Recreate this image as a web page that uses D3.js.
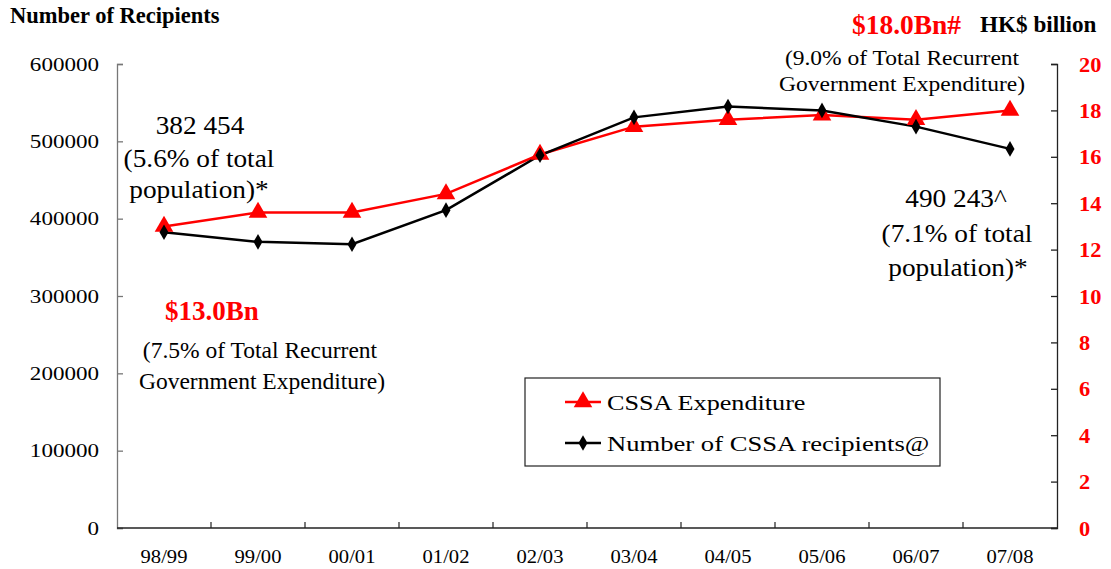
<!DOCTYPE html>
<html>
<head>
<meta charset="utf-8">
<script src="https://cdn.jsdelivr.net/npm/d3@7"></script>
<style>
  body { margin: 0; background: #fff; }
  svg { font-family: "Liberation Serif", "Times New Roman", serif; }
</style>
</head>
<body>
<svg id="chart" width="1111" height="569"></svg>
<script>
const years = ["98/99", "99/00", "00/01", "01/02", "02/03", "03/04", "04/05", "05/06", "06/07", "07/08"]
const expenditure = [13.0, 13.6, 13.6, 14.4, 16.1, 17.3, 17.6, 17.8, 17.6, 18.0]
const recipients = [382454, 370000, 367000, 411000, 482000, 531000, 545000, 540000, 519000, 490243]
const leftTicks = [0, 100000, 200000, 300000, 400000, 500000, 600000]
const rightTicks = [0, 2, 4, 6, 8, 10, 12, 14, 16, 18, 20]

const svg = d3.select("#chart")
const X0 = 117, X1 = 1057, Y0 = 528, Y1 = 64

const x = d3.scaleBand().domain(years).range([X0, X1])
const yL = d3.scaleLinear().domain([0, 600000]).range([Y0, Y1])
const yR = d3.scaleLinear().domain([0, 20]).range([Y0, Y1])
const cx = d => x(d) + x.bandwidth() / 2

// text helper, sx stretches the glyphs horizontally
function label(str, xPos, yPos, size, sx, anchor = "start") {
  return svg.append("text")
    .attr("transform", `translate(${xPos},${yPos}) scale(${sx},1)`)
    .attr("text-anchor", anchor).attr("font-size", size).text(str)
}

// left axis
const gl = svg.append("g").attr("transform", `translate(${X0},0)`)
  .call(d3.axisRight(yL).tickValues(leftTicks).tickSize(6).tickFormat(""))
gl.selectAll("line, path").attr("stroke", "#777").attr("stroke-width", 1.3)
svg.append("g").selectAll("text").data(leftTicks).join("text")
  .attr("transform", d => `translate(99,${yL(d) + 6.5}) scale(1.24,1)`)
  .attr("text-anchor", "end").attr("font-size", 18.6).text(d => d)

// right axis
const gr = svg.append("g").attr("transform", `translate(${X1},0)`)
  .call(d3.axisLeft(yR).tickValues(rightTicks).tickSize(6).tickFormat(""))
gr.selectAll("line, path").attr("stroke", "#222").attr("stroke-width", 1.3)
svg.append("g").selectAll("text").data(rightTicks).join("text")
  .attr("transform", d => `translate(1079,${yR(d) + 7.5}) scale(1.12,1)`)
  .attr("font-size", 20).attr("font-weight", "bold").attr("fill", "#ff0000").text(d => d)

// bottom axis
svg.append("line").attr("x1", X0).attr("x2", X1).attr("y1", Y0).attr("y2", Y0)
  .attr("stroke", "#222").attr("stroke-width", 1.3)
svg.append("g").selectAll("line").data(years.slice(1)).join("line")
  .attr("x1", d => x(d)).attr("x2", d => x(d)).attr("y1", Y0).attr("y2", Y0 - 6)
  .attr("stroke", "#222").attr("stroke-width", 1.2)
svg.append("g").selectAll("text").data(years).join("text")
  .attr("transform", d => `translate(${cx(d)},563) scale(1.11,1)`)
  .attr("text-anchor", "middle").attr("font-size", 18.6).text(d => d)

// lines
const redLine = d3.line().x((d, i) => cx(years[i])).y(d => yR(d))
const blackLine = d3.line().x((d, i) => cx(years[i])).y(d => yL(d))

svg.append("path").datum(expenditure).attr("d", redLine)
  .attr("fill", "none").attr("stroke", "#ff0000").attr("stroke-width", 2.5)
svg.append("path").datum(recipients).attr("d", blackLine)
  .attr("fill", "none").attr("stroke", "#000").attr("stroke-width", 2.5)

const tri = d3.symbol().type(d3.symbolTriangle).size(150)
const dia = d3.symbol().type(d3.symbolDiamond).size(70)

svg.append("g").selectAll("path").data(expenditure).join("path")
  .attr("d", tri).attr("fill", "#ff0000")
  .attr("transform", (d, i) => `translate(${cx(years[i])},${yR(d)})`)
svg.append("g").selectAll("path").data(recipients).join("path")
  .attr("d", dia).attr("fill", "#000")
  .attr("transform", (d, i) => `translate(${cx(years[i])},${yL(d)})`)

// titles
label("Number of Recipients", 10, 23, 22.5, 1).attr("font-weight", "bold")
label("HK$ billion", 980, 32, 22.5, 1.03).attr("font-weight", "bold")
label("$18.0Bn#", 852, 34, 28, 0.98).attr("font-weight", "bold").attr("fill", "#ff0000")

// annotations
label("(9.0% of Total Recurrent", 902, 65, 21, 1.12, "middle")
label("Government Expenditure)", 902, 91, 21, 1.12, "middle")

label("382 454", 200, 134, 26, 1.05, "middle")
label("(5.6% of total", 199, 167, 26, 1.05, "middle")
label("population)*", 199, 198, 26, 1.05, "middle")

label("490 243^", 956, 207, 26, 1.05, "middle")
label("(7.1% of total", 957, 242, 26, 1.05, "middle")
label("population)*", 958, 276, 26, 1.05, "middle")

label("$13.0Bn", 212, 320, 27, 1, "middle").attr("font-weight", "bold").attr("fill", "#ff0000")
label("(7.5% of Total Recurrent", 260, 358, 24, 0.98, "middle")
label("Government Expenditure)", 262, 389, 24, 0.98, "middle")

// legend
const lg = svg.append("g").attr("transform", "translate(525,378)")
lg.append("rect").attr("width", 415).attr("height", 88)
  .attr("fill", "#fff").attr("stroke", "#222").attr("stroke-width", 1.2)
lg.append("line").attr("x1", 40).attr("x2", 76).attr("y1", 24).attr("y2", 24)
  .attr("stroke", "#ff0000").attr("stroke-width", 2.5)
lg.append("path").attr("d", tri).attr("fill", "#ff0000").attr("transform", "translate(58,24)")
lg.append("line").attr("x1", 40).attr("x2", 76).attr("y1", 65).attr("y2", 65)
  .attr("stroke", "#000").attr("stroke-width", 2.5)
lg.append("path").attr("d", dia).attr("fill", "#000").attr("transform", "translate(58,65)")
label("CSSA Expenditure", 607, 410, 22, 1.19)
label("Number of CSSA recipients@", 607, 451, 22, 1.21)
</script>
</body>
</html>
